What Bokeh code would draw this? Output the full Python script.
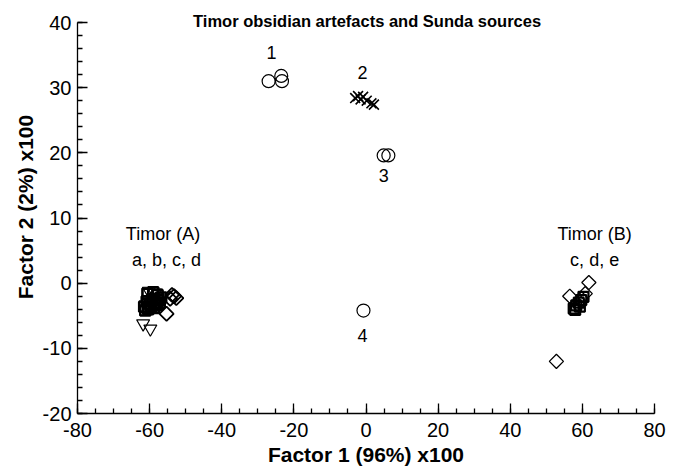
import math
from bokeh.plotting import figure
from bokeh.models import Range1d, SingleIntervalTicker, ColumnDataSource, PrintfTickFormatter
from bokeh.core.properties import value
from bokeh.embed import file_html
from bokeh.resources import INLINE

# ---- data ----
src1_x = [-27.0, -23.5, -23.3]
src1_y = [31.0, 31.8, 31.0]
src2_x = [-3.0, -2.2, -1.5, -0.8, 0.2, 1.5, 2.2]
src2_y = [28.4, 28.7, 28.2, 28.6, 28.0, 27.6, 27.4]
src3_x = [4.9, 6.2]
src3_y = [19.6, 19.6]
src4_x = [-0.7]
src4_y = [-4.2]

timA_sq_x = [-61.5, -60.8, -60.0, -59.2, -58.4, -57.6, -56.8, -61.2, -60.4, -59.6,
             -58.8, -58.0, -57.2, -60.6, -59.0, -57.8]
timA_sq_y = [-3.6, -2.8, -3.2, -2.4, -3.0, -2.6, -2.2, -4.2, -4.0, -3.6,
             -3.8, -3.4, -3.0, -1.6, -1.4, -1.8]
timA_tri_x = [-60.2, -58.5, -61.8, -59.8, -57.8]
timA_tri_y = [-1.2, -1.5, -6.2, -7.0, -2.2]
timA_dia_x = [-53.2, -52.6, -53.8, -54.3, -55.3, -57.5]
timA_dia_y = [-2.0, -2.3, -1.8, -2.4, -4.7, -3.0]

timB_dia_x = [61.8, 56.5, 52.8, 60.8, 59.8, 58.6]
timB_dia_y = [0.1, -2.0, -12.0, -1.6, -2.4, -3.2]
timB_sq_x = [57.6, 58.3, 59.0, 59.7, 60.3, 58.0, 59.3]
timB_sq_y = [-3.9, -3.4, -3.0, -2.6, -2.1, -4.1, -3.6]

label_text = ["1", "2", "3", "4", "Timor (A)", "a, b, c, d", "Timor (B)", "c, d, e"]
label_x = [-26.2, -1.0, 4.9, -1.0, -56.3, -55.3, 63.4, 63.4]
label_y = [35.4, 32.3, 16.5, -8.0, 7.6, 3.5, 7.6, 3.5]

title_text = "Timor obsidian artefacts and Sunda sources"
x_label = "Factor 1 (96%) x100"
y_label = "Factor 2 (2%) x100"

FONT = "Liberation Sans"

# y range extends above 40 so the title can sit inside the frame; axis line bounded to [-20, 40]
p = figure(width=670, height=470, output_backend="svg", toolbar_location=None,
           x_range=Range1d(-80, 80), y_range=Range1d(-20, 43.376),
           min_border_left=77, min_border_right=16, min_border_top=0, min_border_bottom=57)
p.outline_line_color = None
p.xgrid.visible = False
p.ygrid.visible = False
p.background_fill_color = "white"
p.border_fill_color = "white"

p.xaxis.ticker = SingleIntervalTicker(interval=20, num_minor_ticks=4)
p.yaxis.ticker = SingleIntervalTicker(interval=10, num_minor_ticks=5)
p.yaxis.bounds = (-20, 40)
for ax in (p.xaxis, p.yaxis):
    ax.formatter = PrintfTickFormatter(format="%d")
    ax.axis_line_color = "black"
    ax.axis_line_width = 1.3
    ax.major_tick_line_color = "black"
    ax.minor_tick_line_color = "black"
    ax.major_tick_line_width = 1.3
    ax.minor_tick_line_width = 1.3
    ax.major_tick_in = 10
    ax.major_tick_out = 0
    ax.minor_tick_in = 5
    ax.minor_tick_out = 0
    ax.major_label_text_font = FONT
    ax.major_label_text_font_size = "20px"
    ax.major_label_text_color = "black"
    ax.axis_label_text_font = FONT
    ax.axis_label_text_font_size = "21px"
    ax.axis_label_text_font_style = "bold"
    ax.axis_label_text_color = "black"
p.xaxis.axis_label = x_label
p.yaxis.axis_label = y_label
p.xaxis.major_label_standoff = 9
p.xaxis.axis_label_standoff = 3
p.yaxis.major_label_standoff = 6
p.yaxis.axis_label_standoff = 3

lc = "black"
p.scatter(src1_x, src1_y, marker="circle", size=13, fill_color=None, line_color=lc, line_width=1.2)
p.scatter(src2_x, src2_y, marker="x", size=14, line_color=lc, line_width=1.6)
p.scatter(src3_x, src3_y, marker="circle", size=13, fill_color=None, line_color=lc, line_width=1.2)
p.scatter(src4_x, src4_y, marker="circle", size=13, fill_color=None, line_color=lc, line_width=1.2)

p.scatter(timA_sq_x, timA_sq_y, marker="square", size=10, fill_color=None, line_color=lc, line_width=2.6)
p.scatter(timA_tri_x, timA_tri_y, marker="inverted_triangle", size=13, fill_color=None, line_color=lc, line_width=1.2)
p.scatter(timA_dia_x, timA_dia_y, marker="square", angle=math.pi / 4, size=10, fill_color=None, line_color=lc, line_width=1.8)

p.scatter(timB_dia_x, timB_dia_y, marker="square", angle=math.pi / 4, size=10, fill_color=None, line_color=lc, line_width=1.3)
p.scatter(timB_sq_x, timB_sq_y, marker="square", size=10, fill_color=None, line_color=lc, line_width=2.2)

src = ColumnDataSource(dict(x=label_x, y=label_y, t=label_text))
p.text(x="x", y="y", text="t", source=src, text_font=value(FONT), text_font_size="18px",
       text_align="center", text_baseline="middle", text_color="black")

tsrc = ColumnDataSource(dict(x=[0.3], y=[40.3], t=[title_text]))
p.text(x="x", y="y", text="t", source=tsrc, text_font=value(FONT), text_font_size="16.5px",
       text_font_style="bold", text_align="center", text_baseline="middle", text_color="black")

open("out.html", "w").write(file_html(p, INLINE))
